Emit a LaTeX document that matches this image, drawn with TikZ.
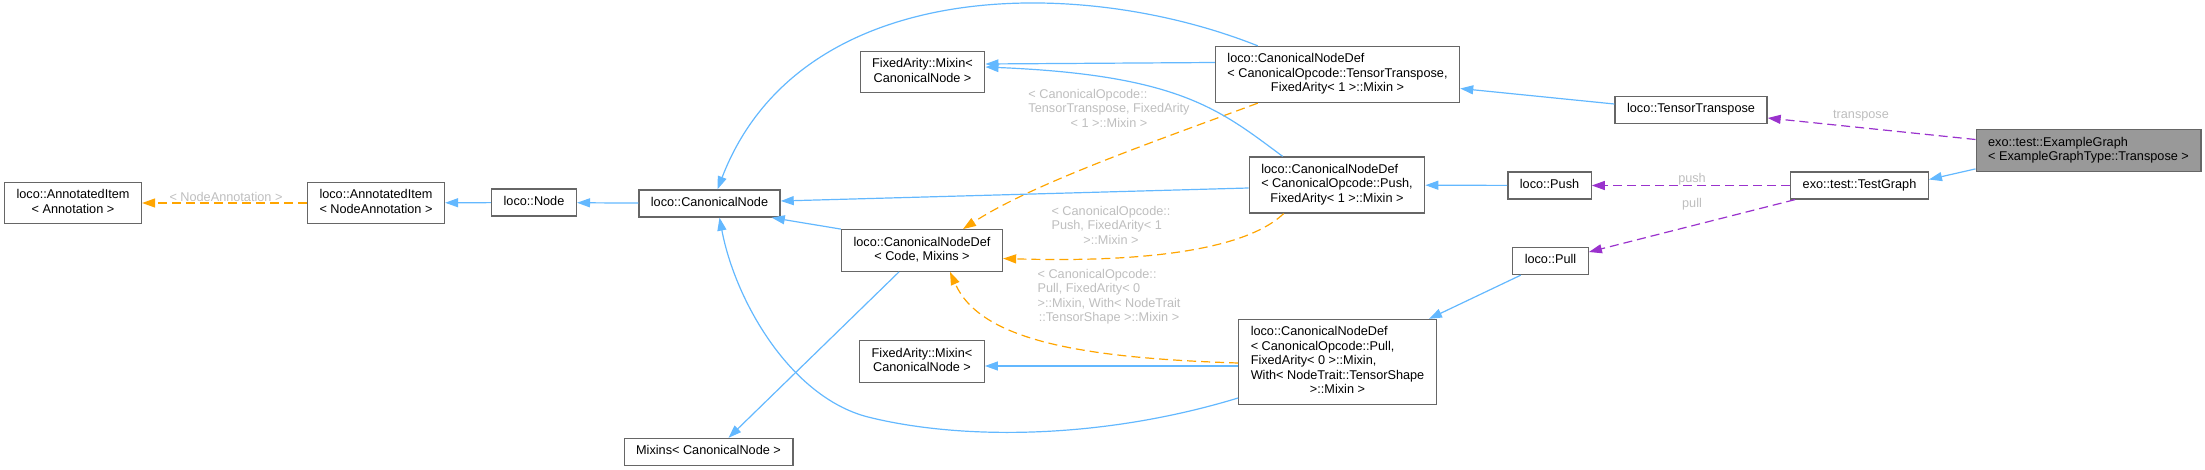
\documentclass[tikz,border=0pt]{standalone}
\usepackage{fontspec}
\setmainfont{Liberation Sans}
\usetikzlibrary{arrows.meta, calc}
\definecolor{edgeblue}{RGB}{99,184,255}
\definecolor{edgeorange}{RGB}{255,165,0}
\definecolor{edgepurple}{RGB}{154,50,205}
\definecolor{labelgrey}{RGB}{190,190,190}
\definecolor{boxgrey}{RGB}{102,102,102}
\definecolor{hilite}{RGB}{153,153,153}
\newcommand{\clsone}[1]{\begin{tabular}{@{}c@{}}#1\end{tabular}}
\newcommand{\clsmany}[2]{\begin{tabular}{@{}l@{}}#1\\\multicolumn{1}{@{}c@{}}{#2}\end{tabular}}

\begin{document}
\begin{tikzpicture}[x=1pt, y=-1pt,
  font=\fontsize{12.7}{14.5}\selectfont,
  cls/.style={draw=boxgrey, line width=1.3pt, fill=white, inner xsep=12pt, inner ysep=6.25pt},
  inherit/.style={edgeblue, line width=1.2pt, -{Triangle[length=13pt,width=9pt]}},
  templ/.style={edgeorange, line width=1.2pt, dash pattern=on 9pt off 5pt, -{Triangle[length=13pt,width=9pt]}},
  usage/.style={edgepurple, line width=1.2pt, dash pattern=on 9pt off 5pt, -{Triangle[length=13pt,width=9pt]}},
  elabel/.style={text=labelgrey, inner sep=0pt}]
  \useasboundingbox (0,0) rectangle (2205,470);

  % classes
  \node[cls] (aiann) at (73,203) {\clsmany{loco::AnnotatedItem}{< Annotation >}};
  \node[cls] (ainodeann) at (376,203) {\clsmany{loco::AnnotatedItem}{< NodeAnnotation >}};
  \node[cls] (lnode) at (534,202.5) {\clsone{loco::Node}};
  \node[cls] (cnode) at (709.5,203.5) {\clsone{loco::CanonicalNode}};
  \node[cls] (fatop) at (922.5,72) {\clsmany{FixedArity::Mixin<}{CanonicalNode >}};
  \node[cls] (cndtt) at (1337.5,74.5) {\clsmany{loco::CanonicalNodeDef\\< CanonicalOpcode::TensorTranspose,}{FixedArity< 1 >::Mixin >}};
  \node[cls] (cndcode) at (922,250.5) {\clsmany{loco::CanonicalNodeDef}{< Code, Mixins >}};
  \node[cls] (cndpush) at (1337,185) {\clsmany{loco::CanonicalNodeDef\\< CanonicalOpcode::Push,}{FixedArity< 1 >::Mixin >}};
  \node[cls] (fabot) at (922,361.5) {\clsmany{FixedArity::Mixin<}{CanonicalNode >}};
  \node[cls] (cndpull) at (1337.5,362) {\clsmany{loco::CanonicalNodeDef\\< CanonicalOpcode::Pull,\\FixedArity< 0 >::Mixin,\\With< NodeTrait::TensorShape}{>::Mixin >}};
  \node[cls] (mixins) at (708.5,452) {\clsone{Mixins< CanonicalNode >}};
  \node[cls] (ttrans) at (1691,110) {\clsone{loco::TensorTranspose}};
  \node[cls] (push) at (1549.5,185.5) {\clsone{loco::Push}};
  \node[cls] (pull) at (1550.5,261) {\clsone{loco::Pull}};
  \node[cls] (testgraph) at (1859.5,185.5) {\clsone{exo::test::TestGraph}};
  \node[cls, fill=hilite] (example) at (2088.5,150.5) {\clsmany{exo::test::ExampleGraph}{< ExampleGraphType::Transpose >}};

  % inheritance
  \draw[templ] (ainodeann) -- (aiann) node[elabel] at (226,196.5) {< NodeAnnotation >};
  \draw[inherit] (lnode) -- (ainodeann);
  \draw[inherit] (cnode) -- (lnode);
  \draw[inherit] (cndcode.north west) -- ($(cnode.south east)+(-9,0)$);
  \draw[inherit] ($(cndcode.south)+(-23,0)$) -- ($(mixins.north)+(20,0)$);
  \draw[inherit] ($(cndtt.north west)+(43,0)$) .. controls (1080,-25) and (800,-25) .. ($(cnode.north)+(8,0)$);
  \draw[inherit] ($(cndtt.west)+(0,-12)$) -- ($(fatop.east)+(0,-8)$);
  \draw[templ] ($(cndtt.south west)+(43,0)$) .. controls (1150,143) and (1030,185) .. ($(cndcode.north)+(41,0)$)
    node[elabel] at (1109,110) {\clsmany{< CanonicalOpcode::\\TensorTranspose, FixedArity}{< 1 >::Mixin >}};
  \draw[inherit] ($(cndpush.west)+(0,3)$) -- ($(cnode.east)+(0,-2.5)$);
  \draw[inherit] ($(cndpush.north west)+(34,0)$) .. controls (1220,110) and (1180,75) .. ($(fatop.east)+(0,-5)$);
  \draw[templ] ($(cndpush.south west)+(35,0)$) .. controls (1240,255) and (1120,262) .. ($(cndcode.east)+(0,8)$)
    node[elabel] at (1111,227) {\clsmany{< CanonicalOpcode::\\Push, FixedArity< 1}{>::Mixin >}};
  \draw[inherit] ($(cndpull.west)+(0,36)$) .. controls (1100,440) and (960,440) .. (868,417)
    .. controls (790,397) and (735,300) .. ($(cnode.south)+(10,0)$);
  \draw[inherit] ($(cndpull.west)+(0,4)$) -- ($(fabot.east)+(0,4.5)$);
  \draw[templ] ($(cndpull.west)+(0,1)$) .. controls (1080,358) and (980,340) .. ($(cndcode.south)+(28,0)$)
    node[elabel] at (1109,297) {\clsmany{< CanonicalOpcode::\\Pull, FixedArity< 0\\>::Mixin, With< NodeTrait}{::TensorShape >::Mixin >}};
  \draw[inherit] (pull) -- ($(cndpull.north east)+(-8,0)$);
  \draw[inherit] (push) -- (cndpush);
  \draw[inherit] ($(ttrans.west)+(0,-6)$) -- ($(cndtt.east)+(0,14)$);
  \draw[inherit] ($(example.south west)+(0,-3)$) -- ($(testgraph.east)+(0,-6)$);

  % usage
  \draw[usage] ($(example.west)+(0,-11)$) -- ($(ttrans.east)+(0,8)$) node[elabel] at (1861,115.5) {transpose};
  \draw[usage] (testgraph) -- (push) node[elabel] at (1692,179.5) {push};
  \draw[usage] ($(testgraph.south west)+(5,0)$) -- ($(pull.east)+(0,-9)$) node[elabel] at (1692,204) {pull};
\end{tikzpicture}
\end{document}
